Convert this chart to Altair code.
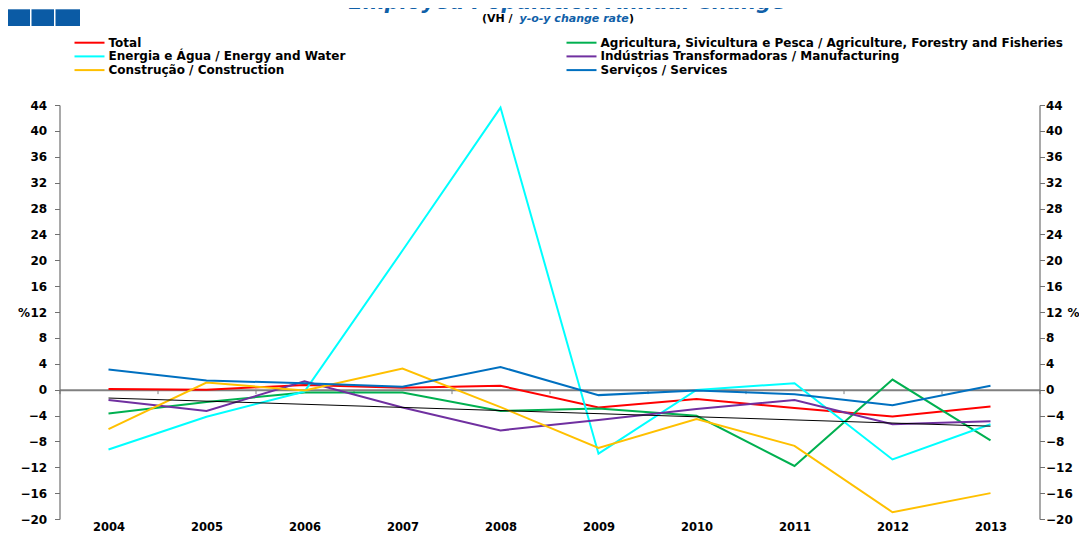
import altair as alt
import pandas as pd

FONT = "DejaVu Sans"

years = ["2004", "2005", "2006", "2007", "2008", "2009", "2010", "2011", "2012", "2013"]

series_names = [
    "Total",
    "Agricultura, Sivicultura e Pesca / Agriculture, Forestry and Fisheries",
    "Energia e Água / Energy and Water",
    "Indústrias Transformadoras / Manufacturing",
    "Construção / Construction",
    "Serviços / Services",
]
series_colors = ["#ff0000", "#00b050", "#00ffff", "#7030a0", "#ffc000", "#0070c0"]
# legend fills column by column
legend_idx = (0, 2, 4, 1, 3, 5)
legend_order = [series_names[i] for i in legend_idx]
legend_colors = [series_colors[i] for i in legend_idx]

total = [0.1, 0.0, 0.7, 0.3, 0.6, -2.75, -1.45, -2.85, -4.15, -2.6]
agriculture = [-3.7, -1.9, -0.45, -0.45, -3.3, -2.9, -4.05, -11.8, 1.55, -7.85]
energy = [-9.25, -4.2, -0.3, 21.5, 43.6, -9.9, -0.05, 1.0, -10.8, -5.35]
manufacturing = [-1.6, -3.3, 1.3, -2.75, -6.3, -4.7, -3.0, -1.6, -5.35, -4.9]
construction = [-6.1, 1.1, -0.15, 3.25, -2.7, -9.0, -4.55, -8.7, -18.95, -16.0]
services = [3.1, 1.4, 1.0, 0.45, 3.5, -0.85, -0.15, -0.7, -2.4, 0.6]

trend_years = ["2004", "2013"]
trend_values = [-1.3, -5.65]

y_ticks = [-20, -16, -12, -8, -4, 0, 4, 8, 12, 16, 20, 24, 28, 32, 36, 40, 44]

rows = []
for name, vals in zip(series_names, [total, agriculture, energy, manufacturing, construction, services]):
    for yr, v in zip(years, vals):
        rows.append({"year": yr, "series": name, "value": v})
df = pd.DataFrame(rows)
tdf = pd.DataFrame({"year": trend_years, "value": trend_values})

W, H = 980, 414
zero_from_bottom = H * 20 / 64

xscale = alt.Scale(type="band", domain=years, paddingInner=0, paddingOuter=0)
yscale = alt.Scale(domain=[-20, 44], nice=False, zero=False)

xaxis = alt.Axis(
    title=None, orient="bottom", offset=-zero_from_bottom,
    domainColor="#808080", domainWidth=2, tickColor="#808080", tickSize=4,
    tickBand="extent", labelPadding=128, labelAngle=0,
    labelFont=FONT, labelFontWeight="bold", labelFontSize=11.5, labelColor="black",
    grid=False,
)

def yaxis(orient, title_x, label_pad):
    return alt.Axis(
        orient=orient, values=y_ticks, title="%", titleAngle=0,
        titleX=title_x, titleY=H * 32 / 64, titleAlign="left", titleBaseline="middle",
        titleFont=FONT, titleFontWeight="bold", titleFontSize=12, titleColor="black",
        domainColor="#707070", domainWidth=1.2, tickColor="#707070", tickSize=5,
        labelPadding=label_pad, labelFont=FONT, labelFontWeight="bold",
        labelFontSize=12, labelColor="black", grid=False, labelOverlap=False,
    )

legend = alt.Legend(
    title=None, orient="none", legendX=24, legendY=-68.3, columns=2,
    columnPadding=217, rowPadding=1.7, symbolType="M-3,0H3", symbolSize=100,
    symbolStrokeWidth=2, labelFont=FONT, labelFontWeight="bold", labelFontSize=12,
    labelColor="black", labelLimit=1000, labelOffset=13, padding=0,
)

lines = alt.Chart(df).mark_line(strokeWidth=2).encode(
    x=alt.X("year:O", scale=xscale, axis=xaxis),
    y=alt.Y("value:Q", scale=yscale, axis=yaxis("left", -42, 7.8)),
    color=alt.Color("series:N", scale=alt.Scale(domain=legend_order, range=legend_colors),
                    sort=legend_order, legend=legend),
    detail="series:N",
)

trend = alt.Chart(tdf).mark_line(strokeWidth=1, color="black").encode(
    x=alt.X("year:O", scale=xscale, axis=xaxis),
    y=alt.Y("value:Q", scale=yscale, axis=yaxis("right", 27.5, 1)),
)

one = pd.DataFrame({"k": [0]})
logo_color = "#0b5ba5"
logo1 = alt.Chart(one).mark_rect(color=logo_color).encode(
    x=alt.value(-52), x2=alt.value(-29.5), y=alt.value(-95.7), y2=alt.value(-79))
logo2 = alt.Chart(one).mark_rect(color=logo_color).encode(
    x=alt.value(-28), x2=alt.value(-5.5), y=alt.value(-95.7), y2=alt.value(-79))
logo3 = alt.Chart(one).mark_rect(color=logo_color).encode(
    x=alt.value(-4), x2=alt.value(20.5), y=alt.value(-95.7), y2=alt.value(-79))

# the title is cut off at the top edge in the reference; only its lower part shows
title = alt.Chart(one).mark_text(
    text="Employed Population Annual Change", font=FONT, fontWeight="bold",
    fontStyle="italic", fontSize=21, color="#1060a8", align="center", baseline="alphabetic",
).encode(x=alt.value(507.5), y=alt.value(-96.5))

sub1 = alt.Chart(one).mark_text(
    text="(VH / ", font=FONT, fontWeight="bold", fontSize=11, color="black",
    align="left", baseline="alphabetic",
).encode(x=alt.value(422.5), y=alt.value(-83.5))
sub2 = alt.Chart(one).mark_text(
    text="y-o-y change rate", font=FONT, fontWeight="bold", fontStyle="italic",
    fontSize=11, color="#1060a8", align="left", baseline="alphabetic",
).encode(x=alt.value(460), y=alt.value(-83.5))
sub3 = alt.Chart(one).mark_text(
    text=")", font=FONT, fontWeight="bold", fontSize=11, color="black",
    align="left", baseline="alphabetic",
).encode(x=alt.value(569.5), y=alt.value(-83.5))

chart = alt.layer(
    lines, trend, logo1, logo2, logo3, title, sub1, sub2, sub3
).resolve_axis(y="independent").properties(
    width=W, height=H,
    autosize=alt.AutoSizeParams(type="none"),
    padding={"left": 51.5, "top": 97, "right": 39.5, "bottom": 14},
    background="white",
).configure_view(stroke=None)

chart.save("out.html", embed_options={"renderer": "svg", "actions": False})
